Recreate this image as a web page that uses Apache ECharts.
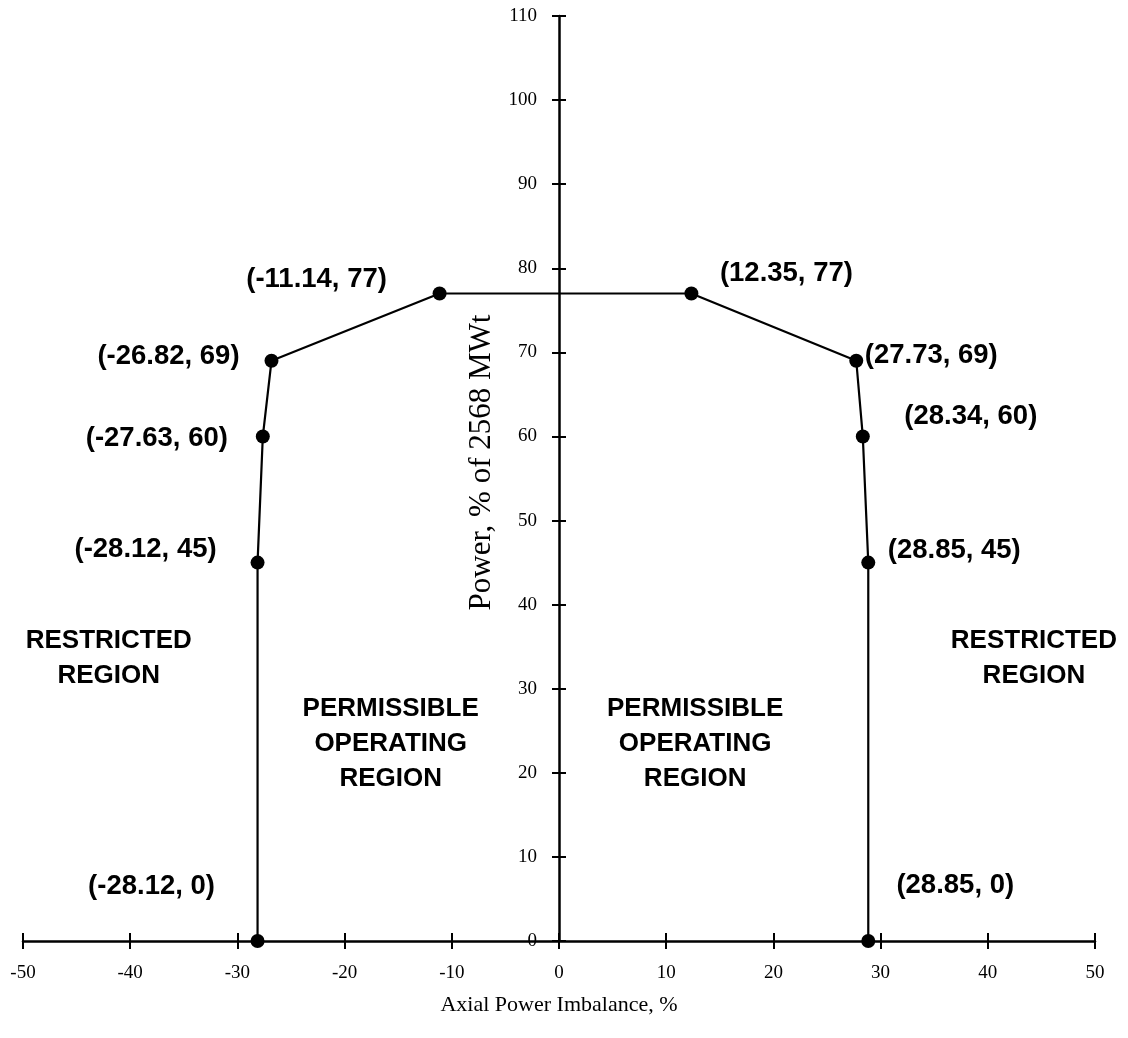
<!DOCTYPE html>
<html><head><meta charset="utf-8">
<script src="https://cdn.jsdelivr.net/npm/echarts@6/dist/echarts.min.js"></script>
<style>html,body{margin:0;padding:0;background:#fff}#c{width:1128px;height:1038px}</style>
</head><body><div id="c"></div>
<script>
// Data
const imbalance = [-28.12, -28.12, -27.63, -26.82, -11.14, 12.35, 27.73, 28.34, 28.85, 28.85];
const power     = [0, 45, 60, 69, 77, 77, 69, 60, 45, 0];
const xTickValues = [-50, -40, -30, -20, -10, 0, 10, 20, 30, 40, 50];
const yTickValues = [0, 10, 20, 30, 40, 50, 60, 70, 80, 90, 100, 110];
const regionNames = ['RESTRICTED\nREGION', 'PERMISSIBLE\nOPERATING\nREGION', 'PERMISSIBLE\nOPERATING\nREGION', 'RESTRICTED\nREGION'];
const regionAnchorX = [-42.0, -15.7, 12.7, 44.3];
const regionAnchorY = [33.65, 23.45, 23.45, 33.65];

// Layout (label offsets in px, per point)
const labelOffsets = [[-106,-55],[-112,-13],[-106,2],[-103,-4],[-123,-14],[95,-20],[75,-5],[108,-20],[86,-12],[87,-56]];

const serif = '"Liberation Serif", "Times New Roman", serif';
const sans = '"Liberation Sans", Arial, sans-serif';

const pointData = imbalance.map((x, i) => ({
  value: [x, power[i]],
  label: {
    show: true, position: 'inside',
    offset: labelOffsets[i],
    formatter: '(' + x + ', ' + power[i] + ')',
    fontFamily: sans, fontWeight: 'bold', fontSize: 27.5, color: '#000'
  }
}));

const regionData = regionNames.map((n, i) => ({ name: n, value: [regionAnchorX[i], regionAnchorY[i]] }));

const xMin = xTickValues[0], xMax = xTickValues[xTickValues.length - 1];
const yMin = yTickValues[0], yMax = yTickValues[yTickValues.length - 1];

const gridLeft = 23, gridRight = 33, chartW = 1128;
const zeroOffset = -((0 - xMin) / (xMax - xMin)) * (chartW - gridLeft - gridRight);

const baseX = { type: 'value', min: xMin, max: xMax, interval: 10, splitLine: { show: false } };
const baseY = { type: 'value', min: yMin, max: yMax, interval: 10, splitLine: { show: false } };

const option = {
  backgroundColor: '#fff',
  animation: false,
  grid: { left: gridLeft, right: gridRight, top: 16, bottom: 97, containLabel: false, outerBoundsMode: 'none' },
  xAxis: [
    Object.assign({}, baseX, {
      position: 'bottom',
      axisLine: { show: true, onZero: false, lineStyle: { color: '#000', width: 2.5 } },
      axisTick: { show: true, inside: false, length: 8, lineStyle: { color: '#000', width: 2 } },
      axisLabel: { show: true, margin: 23, fontFamily: serif, fontSize: 19, color: '#000' },
      name: 'Axial Power Imbalance, %', nameLocation: 'middle', nameGap: 53, nameMoveOverlap: false,
      nameTextStyle: { fontFamily: serif, fontSize: 22, color: '#000' }
    }),
    Object.assign({}, baseX, {
      position: 'bottom',
      axisLine: { show: false, onZero: false },
      axisTick: { show: true, inside: true, length: 8, lineStyle: { color: '#000', width: 2 } },
      axisLabel: { show: false }
    })
  ],
  yAxis: [
    Object.assign({}, baseY, {
      position: 'left', offset: zeroOffset,
      axisLine: { show: true, onZero: false, lineStyle: { color: '#000', width: 2.5 } },
      axisTick: { show: true, inside: false, length: 7, lineStyle: { color: '#000', width: 2 } },
      axisLabel: { show: true, margin: 22, fontFamily: serif, fontSize: 19, color: '#000' },
      name: 'Power, % of 2568 MWt', nameLocation: 'middle', nameGap: 62, nameRotate: 90, nameMoveOverlap: false,
      nameTextStyle: { fontFamily: serif, fontSize: 31, color: '#000', padding: [0, 0, 0, 32] }
    }),
    Object.assign({}, baseY, {
      position: 'left', offset: zeroOffset,
      axisLine: { show: false, onZero: false },
      axisTick: { show: true, inside: true, length: 7, lineStyle: { color: '#000', width: 2 } },
      axisLabel: { show: false }
    })
  ],
  series: [
    {
      type: 'line', xAxisIndex: 0, yAxisIndex: 0,
      data: pointData,
      symbol: 'circle', symbolSize: 14,
      itemStyle: { color: '#000', opacity: 1 },
      lineStyle: { color: '#000', width: 2.2 },
      z: 5
    },
    {
      type: 'scatter', xAxisIndex: 0, yAxisIndex: 0,
      data: regionData, symbolSize: 1,
      itemStyle: { color: 'rgba(0,0,0,0)', opacity: 1 },
      label: {
        show: true, position: 'inside', formatter: p => p.name,
        fontFamily: sans, fontWeight: 'bold', fontSize: 26, lineHeight: 35,
        color: '#000', align: 'center', opacity: 1
      }
    }
  ]
};

const chart = echarts.init(document.getElementById('c'), null, { renderer: 'canvas' });
chart.setOption(option);
</script>
</body></html>
